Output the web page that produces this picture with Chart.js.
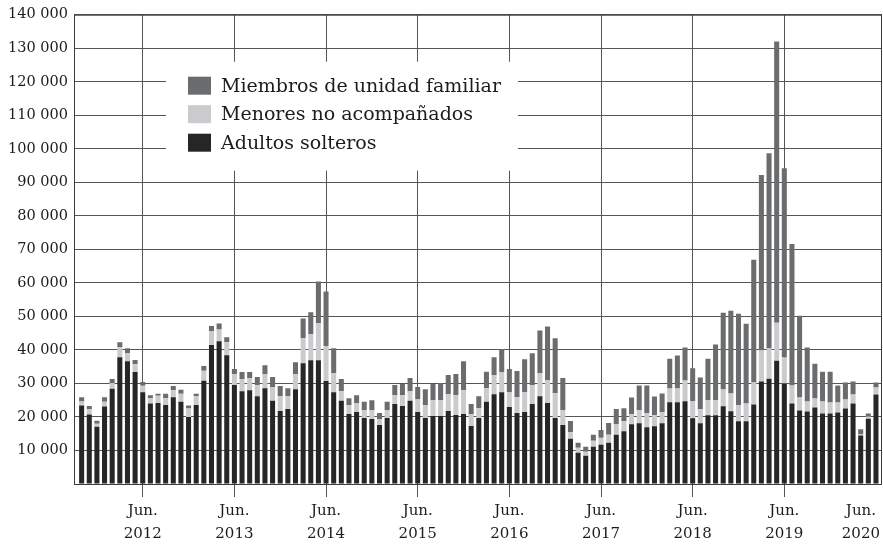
<!DOCTYPE html>
<html lang="es">
<head>
<meta charset="utf-8">
<script src="https://cdn.jsdelivr.net/npm/chart.js@4.4.1/dist/chart.umd.min.js"></script>
<style>
  html, body { margin: 0; padding: 0; background: #fff; }
  #wrap { width: 883px; height: 545px; position: relative; }
</style>
</head>
<body>
<div id="wrap"><canvas id="grafico"></canvas></div>
<script>
// Meses de oct. 2011 a jun. 2020 (un dato por mes)
const meses = [
  '2011-10', '2011-11', '2011-12',
  '2012-01', '2012-02', '2012-03', '2012-04', '2012-05', '2012-06', '2012-07', '2012-08', '2012-09', '2012-10', '2012-11', '2012-12',
  '2013-01', '2013-02', '2013-03', '2013-04', '2013-05', '2013-06', '2013-07', '2013-08', '2013-09', '2013-10', '2013-11', '2013-12',
  '2014-01', '2014-02', '2014-03', '2014-04', '2014-05', '2014-06', '2014-07', '2014-08', '2014-09', '2014-10', '2014-11', '2014-12',
  '2015-01', '2015-02', '2015-03', '2015-04', '2015-05', '2015-06', '2015-07', '2015-08', '2015-09', '2015-10', '2015-11', '2015-12',
  '2016-01', '2016-02', '2016-03', '2016-04', '2016-05', '2016-06', '2016-07', '2016-08', '2016-09', '2016-10', '2016-11', '2016-12',
  '2017-01', '2017-02', '2017-03', '2017-04', '2017-05', '2017-06', '2017-07', '2017-08', '2017-09', '2017-10', '2017-11', '2017-12',
  '2018-01', '2018-02', '2018-03', '2018-04', '2018-05', '2018-06', '2018-07', '2018-08', '2018-09', '2018-10', '2018-11', '2018-12',
  '2019-01', '2019-02', '2019-03', '2019-04', '2019-05', '2019-06', '2019-07', '2019-08', '2019-09', '2019-10', '2019-11', '2019-12',
  '2020-01', '2020-02', '2020-03', '2020-04', '2020-05', '2020-06'
];

const adultosSolteros = [
  23400, 20700, 17100,
  23100, 28400, 37800, 36600, 33400, 27400, 24000, 24200, 23600, 25900, 24500, 20000,
  23600, 30800, 41500, 42600, 38400, 29500, 27700, 28000, 26200, 28600, 24800, 21800,
  22400, 28300, 36000, 36900, 36900, 30700, 27400, 24800, 20900, 21500, 19700, 19400,
  17600, 19700, 23900, 23300, 24800, 21500, 19700, 20300, 20300, 21800, 20600, 20900,
  17300, 19700, 24500, 26800, 27400, 23000, 21200, 21500, 23900, 26200, 24200, 19700,
  17600, 13500, 9300, 8400, 11100, 11700, 12300, 14700, 15700, 17800, 18100, 16900,
  17200, 18100, 24400, 24400, 24700, 19600, 18100, 20500, 20500, 23200, 21700, 18700,
  18700, 23700, 30600, 31400, 36800, 30000, 24000, 21900, 21600, 22800, 21000, 21000,
  21300, 22500, 24000, 14500, 19500, 26700
];

const menoresNoAcompanados = [
  1200, 1600, 900,
  1400, 1700, 3000, 2500, 2300, 1900, 1600, 2100, 2000, 2100, 2400, 2500,
  2600, 3000, 4100, 3500, 3900, 3300, 3600, 3600, 3300, 4200, 4100, 4400,
  3800, 4500, 7500, 7800, 11100, 10400, 5700, 2900, 2700, 2700, 2400, 2700,
  1800, 2400, 2600, 3200, 2900, 3800, 3900, 4700, 4700, 5000, 5900, 7100,
  3600, 3000, 4100, 5700, 6000, 4400, 4700, 5900, 5600, 6900, 6800, 7400,
  4500, 2000, 1500, 1200, 1800, 2100, 2400, 3200, 3000, 3000, 3900, 4200,
  3300, 3300, 4100, 4100, 6200, 5100, 4200, 4500, 4500, 5000, 5300, 4800,
  5300, 6600, 9200, 9000, 11300, 7700, 5400, 3900, 3000, 2700, 3600, 3300,
  3000, 2700, 2700, 300, 600, 2100
];

const miembrosUnidadFamiliar = [
  1300, 1000, 900,
  1400, 1200, 1500, 1400, 1300, 1100, 900, 600, 1300, 1200, 1200, 900,
  700, 1400, 1500, 1800, 1500, 1500, 2100, 1800, 2400, 2600, 3000, 3000,
  2400, 3500, 5900, 6500, 12400, 16300, 7400, 3600, 2000, 2300, 2400, 2900,
  1800, 2400, 3000, 3300, 3900, 3600, 4700, 4800, 5100, 5700, 6300, 8600,
  3000, 3500, 4900, 5300, 6800, 6900, 7800, 9800, 9500, 12700, 16000, 16400,
  9500, 3300, 1500, 1500, 1800, 2300, 3500, 4500, 3900, 5000, 7400, 8300,
  5600, 5600, 8900, 9800, 9800, 9800, 9500, 12400, 16600, 22900, 24700, 27300,
  23800, 36600, 52400, 58300, 83900, 56500, 42200, 24400, 16100, 10400, 8900, 9200,
  5100, 5100, 3900, 1500, 900, 1500
];

// Etiquetas del eje x: junio de cada año
const aniosJunio = ['2012', '2013', '2014', '2015', '2016', '2017', '2018', '2019', '2020'];
// Años cuyo junio lleva línea de cuadrícula
const aniosConLinea = ['2012', '2013', '2014', '2015', '2016', '2017', '2018', '2019'];

const FUENTE = '"DejaVu Serif", "Liberation Serif", serif';
const COLOR_TEXTO = '#1c1c1c';
const COLOR_REJILLA = '#555555';

function aPuntos(serie) {
  return serie.map(function (v, i) { return { x: i, y: v }; });
}

function miles(v) {
  return String(v).replace(/\B(?=(\d{3})+(?!\d))/g, ' ');
}

const series = [
  { label: 'Adultos solteros', data: adultosSolteros, color: '#262626' },
  { label: 'Menores no acompañados', data: menoresNoAcompanados, color: '#cbcbce' },
  { label: 'Miembros de unidad familiar', data: miembrosUnidadFamiliar, color: '#6a6c6e' }
];

const marcoYLeyenda = {
  id: 'marcoYLeyenda',
  beforeDatasetsDraw: function (chart) {
    const a = chart.chartArea;
    const ctx = chart.ctx;
    ctx.save();
    ctx.strokeStyle = '#3a3a3a';
    ctx.lineWidth = 1;
    ctx.strokeRect(a.left + 0.5, a.top + 0.5, a.right - a.left - 1, a.bottom - a.top);
    ctx.restore();
  },
  afterDraw: function (chart) {
    const ctx = chart.ctx;
    const a = chart.chartArea;
    const xs = chart.scales.x;
    ctx.save();

    // Leyenda sobre fondo blanco
    ctx.fillStyle = '#ffffff';
    ctx.fillRect(a.left + 92, a.top + 47, 352, 109);
    const orden = [series[2], series[1], series[0]];
    ctx.font = '19px ' + FUENTE;
    ctx.textBaseline = 'middle';
    ctx.textAlign = 'left';
    orden.forEach(function (s, i) {
      const y = a.top + 71 + i * 28.5;
      ctx.fillStyle = s.color;
      ctx.fillRect(a.left + 114, y - 9, 23, 18);
      ctx.fillStyle = COLOR_TEXTO;
      ctx.fillText(s.label, a.left + 147, y + 1);
    });

    // Etiquetas del eje x en dos líneas
    ctx.font = '15px ' + FUENTE;
    ctx.textAlign = 'center';
    ctx.fillStyle = COLOR_TEXTO;
    aniosJunio.forEach(function (anio) {
      const i = meses.indexOf(anio + '-06');
      let x = xs.getPixelForValue(i);
      const w = Math.max(ctx.measureText('Jun.').width, ctx.measureText(anio).width);
      if (x + w / 2 > chart.width - 3) x = chart.width - 3 - w / 2;
      ctx.fillText('Jun.', x, a.bottom + 27);
      ctx.fillText(anio, x, a.bottom + 50);
    });
    ctx.restore();
  }
};

new Chart(document.getElementById('grafico'), {
  type: 'bar',
  data: {
    datasets: series.map(function (s) {
      return {
        label: s.label,
        data: aPuntos(s.data),
        backgroundColor: s.color,
        borderWidth: 0,
        barPercentage: 0.66,
        categoryPercentage: 1
      };
    })
  },
  options: {
    responsive: true,
    maintainAspectRatio: false,
    animation: false,
    layout: { padding: { top: 14, right: 1, left: 0, bottom: 0 } },
    plugins: {
      legend: { display: false },
      tooltip: { enabled: false }
    },
    scales: {
      x: {
        type: 'linear',
        stacked: true,
        offset: false,
        bounds: 'data',
        min: -1,
        max: 104.79,
        afterBuildTicks: function (s) {
          s.ticks = aniosConLinea.map(function (anio) {
            return { value: meses.indexOf(anio + '-06') };
          });
        },
        afterFit: function (s) { s.height = 61; },
        grid: { offset: false, color: COLOR_REJILLA, lineWidth: 1, tickLength: 13, drawTicks: true },
        border: { display: false },
        ticks: { display: false }
      },
      y: {
        stacked: true,
        min: 0,
        max: 140000,
        afterFit: function (s) { s.width = 74; },
        grid: { color: COLOR_REJILLA, lineWidth: 1, drawTicks: false },
        border: { display: false },
        ticks: {
          stepSize: 10000,
          padding: 6,
          color: COLOR_TEXTO,
          font: { family: FUENTE, size: 14.5 },
          callback: function (v) { return v === 0 ? '' : miles(v); }
        }
      }
    }
  },
  plugins: [marcoYLeyenda]
});
</script>
</body>
</html>
